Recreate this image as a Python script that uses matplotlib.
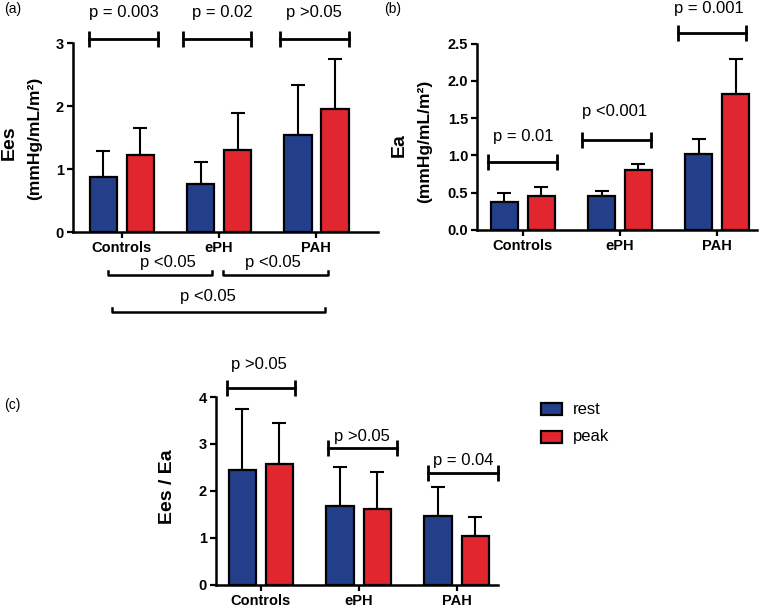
import matplotlib
matplotlib.use("Agg")
import matplotlib.pyplot as plt
import numpy as np

plt.rcParams['font.family'] = ['Liberation Sans', 'DejaVu Sans']

groups = ['Controls', 'ePH', 'PAH']
series = ['rest', 'peak']

# Ees (mmHg/mL/m2)
ees_rest = [0.88, 0.77, 1.55]
ees_rest_sd = [0.41, 0.35, 0.78]
ees_peak = [1.22, 1.30, 1.96]
ees_peak_sd = [0.44, 0.59, 0.79]
ees_p = ['p = 0.003', 'p = 0.02', 'p >0.05']

# Ea (mmHg/mL/m2)
ea_rest = [0.38, 0.45, 1.02]
ea_rest_sd = [0.12, 0.07, 0.20]
ea_peak = [0.46, 0.80, 1.83]
ea_peak_sd = [0.12, 0.09, 0.47]
ea_p = ['p = 0.01', 'p <0.001', 'p = 0.001']

# Ees / Ea
ratio_rest = [2.45, 1.68, 1.47]
ratio_rest_sd = [1.29, 0.82, 0.61]
ratio_peak = [2.57, 1.62, 1.04]
ratio_peak_sd = [0.88, 0.78, 0.41]
ratio_p = ['p >0.05', 'p >0.05', 'p = 0.04']

between_p = ['p <0.05', 'p <0.05', 'p <0.05']

BLUE = '#243f8a'
RED = '#e1262f'
off = 0.19
w = 0.28


def draw_panel(ax, rest, rest_sd, peak, peak_sd, xlim, ylim, yticks, ticklabels):
    x = np.arange(len(groups))
    ax.bar(x - off, rest, w, color=BLUE, edgecolor='black', linewidth=1.6, zorder=3)
    ax.bar(x + off, peak, w, color=RED, edgecolor='black', linewidth=1.6, zorder=3)
    ax.errorbar(x - off, rest, yerr=[np.zeros(3), rest_sd], fmt='none', ecolor='black',
                elinewidth=1.5, capsize=4.8, capthick=1.5, zorder=2)
    ax.errorbar(x + off, peak, yerr=[np.zeros(3), peak_sd], fmt='none', ecolor='black',
                elinewidth=1.5, capsize=4.8, capthick=1.5, zorder=2)
    ax.set_xlim(*xlim)
    ax.set_ylim(*ylim)
    ax.set_xticks(x)
    ax.set_xticklabels(groups, fontweight='bold', fontsize=10.5)
    ax.set_yticks(yticks)
    ax.set_yticklabels(ticklabels, fontweight='bold', fontsize=10.5)
    for s in ['top', 'right']:
        ax.spines[s].set_visible(False)
    for s in ['left', 'bottom']:
        ax.spines[s].set_linewidth(1.8)
    ax.tick_params(width=1.6, length=4.5, pad=2)


def bracket(ax, x1, x2, y, label, ty, tx=None):
    ax.plot([x1, x2], [y, y], color='black', lw=2, marker='|', markersize=11,
            markeredgewidth=2, clip_on=False)
    if tx is None:
        tx = (x1 + x2) / 2
    ax.text(tx, ty, label, ha='center', va='center', fontsize=12)


fig = plt.figure(figsize=(7.6, 6.08), dpi=100)

# (a)
axa = fig.add_axes([0.096, 0.618, 0.401, 0.311])
draw_panel(axa, ees_rest, ees_rest_sd, ees_peak, ees_peak_sd,
           (-0.5, 2.63), (0, 3), [0, 1, 2, 3], ['0', '1', '2', '3'])
for i, (x1, x2, tx) in enumerate([(-0.34, 0.37, 0.02), (0.63, 1.33, 1.03), (1.63, 2.34, 1.97)]):
    bracket(axa, x1, x2, 3.06, ees_p[i], 3.49, tx)
fig.text(0.012, 0.765, 'Ees', rotation=90, ha='center', va='center', fontsize=14, fontweight='bold')
fig.text(0.046, 0.772, '(mmHg/mL/m²)', rotation=90, ha='center', va='center',
         fontsize=12.5, fontweight='bold')
# between-group brackets under the axis
d = 0.07
for (x1, x2, y, tx, ty), lab in zip([(-0.14, 0.93, -0.68, 0.48, -0.48),
                                    (1.04, 2.12, -0.68, 1.55, -0.48),
                                    (-0.10, 2.09, -1.27, 0.89, -1.02)], between_p):
    axa.plot([x1, x1, x2, x2], [y + d, y, y, y + d], color='black', lw=1.8, clip_on=False)
    axa.text(tx, ty, lab, ha='center', va='center', fontsize=12)

# (b)
axb = fig.add_axes([0.628, 0.622, 0.368, 0.306])
draw_panel(axb, ea_rest, ea_rest_sd, ea_peak, ea_peak_sd,
           (-0.47, 2.41), (0, 2.5), [0, 0.5, 1.0, 1.5, 2.0, 2.5],
           ['0.0', '0.5', '1.0', '1.5', '2.0', '2.5'])
for i, (x1, x2, y, tx, ty) in enumerate([(-0.36, 0.35, 0.91, 0.0, 1.25),
                                         (0.61, 1.32, 1.21, 0.94, 1.59),
                                         (1.60, 2.30, 2.65, 1.91, 2.97)]):
    bracket(axb, x1, x2, y, ea_p[i], ty, tx)
fig.text(0.525, 0.762, 'Ea', rotation=90, ha='center', va='center', fontsize=14, fontweight='bold')
fig.text(0.559, 0.768, '(mmHg/mL/m²)', rotation=90, ha='center', va='center',
         fontsize=12.5, fontweight='bold')

# (c)
axc = fig.add_axes([0.284, 0.038, 0.371, 0.309])
draw_panel(axc, ratio_rest, ratio_rest_sd, ratio_peak, ratio_peak_sd,
           (-0.46, 2.42), (0, 4), [0, 1, 2, 3, 4], ['0', '1', '2', '3', '4'])
for i, (x1, x2, y, tx, ty) in enumerate([(-0.35, 0.35, 4.19, -0.02, 4.70),
                                         (0.69, 1.39, 2.91, 1.03, 3.15),
                                         (1.71, 2.42, 2.38, 2.07, 2.64)]):
    bracket(axc, x1, x2, y, ratio_p[i], ty, tx)
fig.text(0.22, 0.20, 'Ees / Ea', rotation=90, ha='center', va='center', fontsize=14, fontweight='bold')

# legend
for lab, col, ypx in zip(series, [BLUE, RED], [409, 437]):
    fig.patches.append(plt.Rectangle((541 / 760, 1 - (ypx + 6) / 608), 21 / 760, 12 / 608,
                                     transform=fig.transFigure, facecolor=col,
                                     edgecolor='black', linewidth=1.6))
    fig.text(573 / 760, 1 - ypx / 608, lab, ha='left', va='center', fontsize=12)

fig.text(0.006, 0.985, '(a)', ha='left', va='center', fontsize=10)
fig.text(0.506, 0.985, '(b)', ha='left', va='center', fontsize=10)
fig.text(0.006, 0.334, '(c)', ha='left', va='center', fontsize=10)

fig.savefig('out.png', dpi=100)
